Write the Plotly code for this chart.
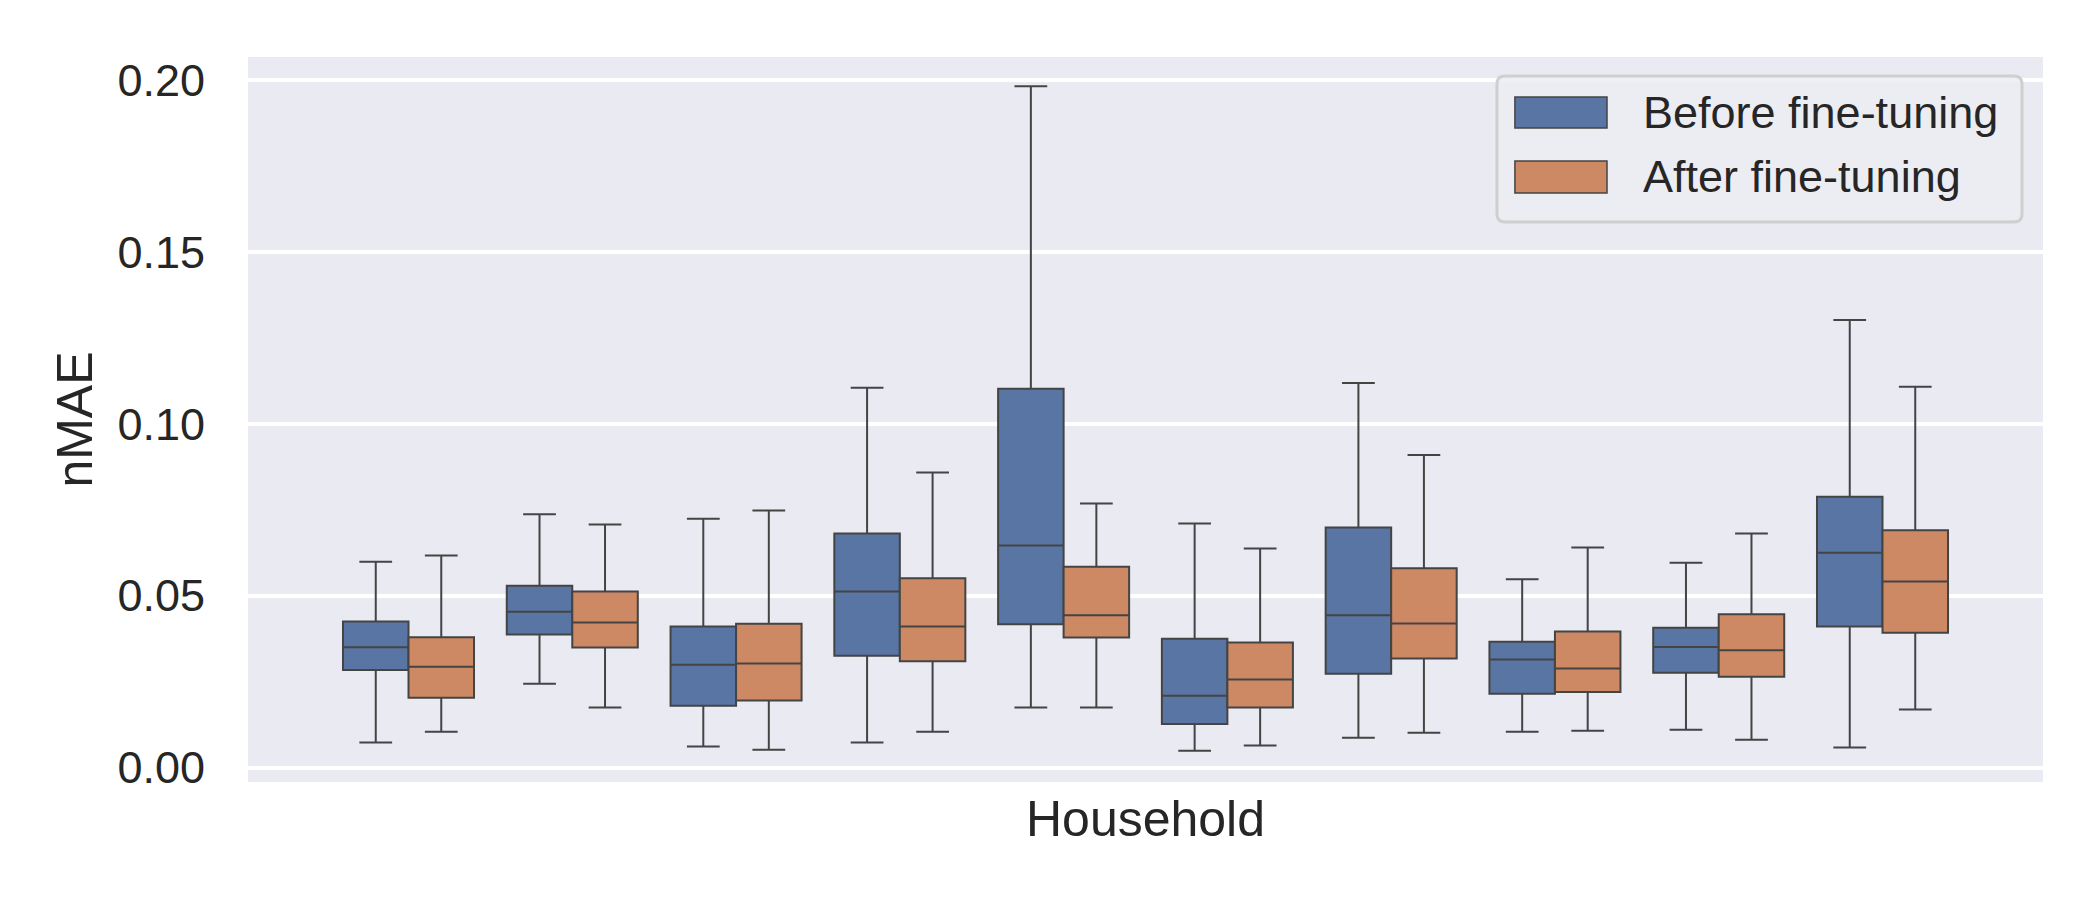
import plotly.graph_objects as go

# ---- data ----
households = ["H1", "H2", "H3", "H4", "H5", "H6", "H7", "H8", "H9", "H10"]
series_names = ["Before fine-tuning", "After fine-tuning"]

before_low = [0.0073, 0.0244, 0.0061, 0.0073, 0.0175, 0.0049, 0.0087, 0.0104, 0.0110, 0.0058]
before_q1 = [0.0284, 0.0387, 0.0180, 0.0325, 0.0417, 0.0127, 0.0273, 0.0215, 0.0276, 0.0410]
before_med = [0.0350, 0.0453, 0.0299, 0.0512, 0.0646, 0.0209, 0.0443, 0.0314, 0.0351, 0.0625]
before_q3 = [0.0425, 0.0529, 0.0410, 0.0681, 0.1102, 0.0375, 0.0698, 0.0366, 0.0407, 0.0788]
before_high = [0.0599, 0.0737, 0.0724, 0.1105, 0.1982, 0.0710, 0.1119, 0.0548, 0.0596, 0.1302]

after_low = [0.0104, 0.0175, 0.0052, 0.0104, 0.0175, 0.0064, 0.0101, 0.0107, 0.0081, 0.0169]
after_q1 = [0.0203, 0.0349, 0.0195, 0.0309, 0.0378, 0.0175, 0.0317, 0.0220, 0.0264, 0.0392]
after_med = [0.0293, 0.0422, 0.0303, 0.0410, 0.0443, 0.0256, 0.0419, 0.0288, 0.0341, 0.0541]
after_q3 = [0.0379, 0.0512, 0.0418, 0.0551, 0.0584, 0.0364, 0.0580, 0.0396, 0.0446, 0.0690]
after_high = [0.0617, 0.0707, 0.0748, 0.0858, 0.0768, 0.0637, 0.0909, 0.0640, 0.0681, 0.1108]

y_ticks = [0.00, 0.05, 0.10, 0.15, 0.20]
y_tick_labels = ["0.00", "0.05", "0.10", "0.15", "0.20"]

# ---- styles ----
FILLS = ["#5875a4", "#cc8963"]
LINE = "#444444"
TEXT = "#262626"
FONT = "Liberation Sans, Arial, sans-serif"

fig = go.Figure()
stats = [
    (before_low, before_q1, before_med, before_q3, before_high),
    (after_low, after_q1, after_med, after_q3, after_high),
]
for name, (lo, q1, med, q3, hi), fill in zip(series_names, stats, FILLS):
    fig.add_trace(go.Box(
        x=households, lowerfence=lo, q1=q1, median=med, q3=q3, upperfence=hi,
        name=name, fillcolor=fill, line=dict(color=LINE, width=2),
        whiskerwidth=0.5, boxpoints=False, showlegend=False,
    ))

# ---- manual legend (matplotlib-like) ----
lx0, lx1, ly0, ly1 = 0.6958, 0.9883, 0.7724, 0.9738
rx, ry = 0.0045, 0.011
legend_path = (
    f"M {lx0+rx},{ly0} L {lx1-rx},{ly0} Q {lx1},{ly0} {lx1},{ly0+ry} "
    f"L {lx1},{ly1-ry} Q {lx1},{ly1} {lx1-rx},{ly1} "
    f"L {lx0+rx},{ly1} Q {lx0},{ly1} {lx0},{ly1-ry} "
    f"L {lx0},{ly0+ry} Q {lx0},{ly0} {lx0+rx},{ly0} Z"
)
shapes = [dict(type="path", path=legend_path, xref="paper", yref="paper",
               fillcolor="rgba(236,236,243,0.85)",
               line=dict(color="rgba(204,204,204,0.9)", width=3))]
patch_rows = [(0.9021, 0.9448), (0.8124, 0.8566)]
annotations = []
for (py0, py1), fill, name in zip(patch_rows, FILLS, series_names):
    shapes.append(dict(type="rect", xref="paper", yref="paper",
                       x0=0.7058, x1=0.7571, y0=py0, y1=py1,
                       fillcolor=fill, line=dict(color=LINE, width=1.5)))
    annotations.append(dict(xref="paper", yref="paper", x=0.7762, y=(py0 + py1) / 2,
                            text=name, showarrow=False, xanchor="left", yanchor="middle",
                            font=dict(family=FONT, size=45, color=TEXT)))

fig.update_layout(
    width=2100, height=900,
    margin=dict(l=248, r=57, t=57, b=118, autoexpand=False),
    paper_bgcolor="white", plot_bgcolor="#eaeaf2",
    boxmode="group", boxgap=0.2, boxgroupgap=0,
    font=dict(family=FONT, size=45, color=TEXT),
    shapes=shapes, annotations=annotations,
    xaxis=dict(
        range=[-0.98, 9.98], showgrid=False, zeroline=False, showline=False,
        showticklabels=False, ticks="",
        title=dict(text="Household", font=dict(family=FONT, size=50, color=TEXT), standoff=18),
    ),
    yaxis=dict(
        range=[-0.0042, 0.2067], tickvals=y_ticks, ticktext=y_tick_labels,
        showgrid=True, gridcolor="white", gridwidth=4, zeroline=False, showline=False,
        ticks="", ticklabelstandoff=42,
        tickfont=dict(family=FONT, size=45, color=TEXT),
        title=dict(text="nMAE", font=dict(family=FONT, size=50, color=TEXT), standoff=8),
    ),
)

fig.write_html("out.html", config={"displayModeBar": False},
               post_script="document.body.style.margin='0';")
